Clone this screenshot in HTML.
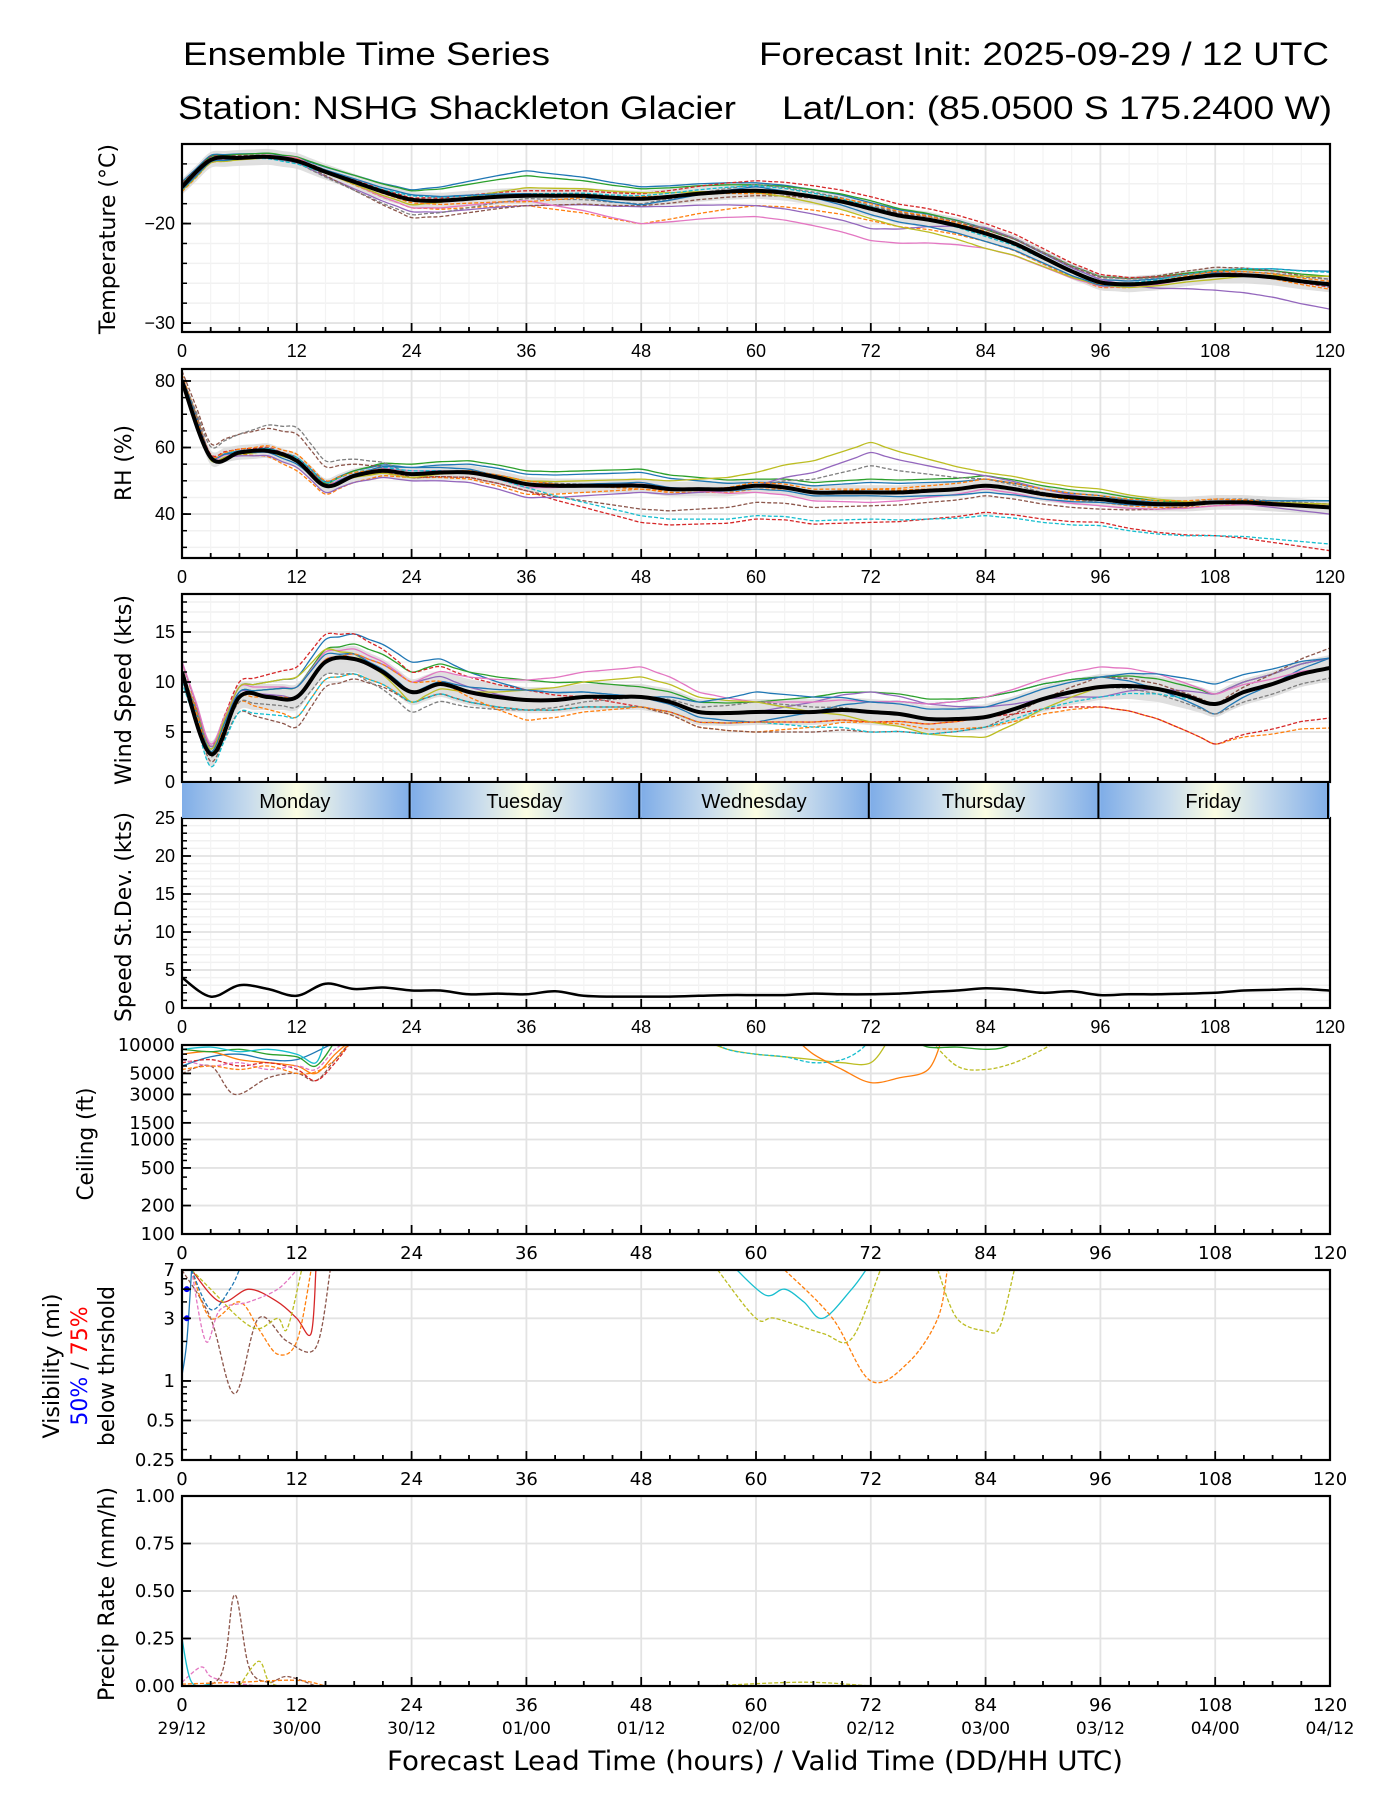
<!DOCTYPE html>
<html><head><meta charset="utf-8"><title>Ensemble Time Series</title>
<style>
html,body{margin:0;padding:0;background:#fff;}
svg{display:block;}
</style></head>
<body>
<svg id="chart" xmlns="http://www.w3.org/2000/svg" width="1400" height="1800" viewBox="0 0 1400 1800">
<defs>
<linearGradient id="dayGrad" x1="0" x2="1" y1="0" y2="0">
<stop offset="0" stop-color="#7fade8"/><stop offset="0.3" stop-color="#c9dcec"/><stop offset="0.5" stop-color="#fbfde2"/><stop offset="0.7" stop-color="#c9dcec"/><stop offset="1" stop-color="#7fade8"/>
</linearGradient>
</defs>
<g font-family="Liberation Sans, DejaVu Sans, sans-serif" fill="#000">
<text x="183" y="65" font-size="32" textLength="367" lengthAdjust="spacingAndGlyphs">Ensemble Time Series</text>
<text x="759" y="65" font-size="32" textLength="570" lengthAdjust="spacingAndGlyphs">Forecast Init: 2025-09-29 / 12 UTC</text>
<text x="178" y="119" font-size="32" textLength="558" lengthAdjust="spacingAndGlyphs">Station: NSHG Shackleton Glacier</text>
<text x="782" y="119" font-size="32" textLength="550" lengthAdjust="spacingAndGlyphs">Lat/Lon: (85.0500 S 175.2400 W)</text>
</g>
</svg>
<script>
// ===== data (3-hourly means, 0..120h) =====
const hours3 = [0,3,6,9,12,15,18,21,24,27,30,33,36,39,42,45,48,51,54,57,60,63,66,69,72,75,78,81,84,87,90,93,96,99,102,105,108,111,114,117,120];
const tempMean = [-16.3,-13.6,-13.4,-13.3,-13.7,-14.8,-15.8,-16.8,-17.6,-17.7,-17.5,-17.3,-17.2,-17.2,-17.2,-17.4,-17.5,-17.3,-17.0,-16.8,-16.7,-16.9,-17.3,-17.8,-18.5,-19.2,-19.6,-20.2,-21.0,-22.0,-23.4,-24.8,-25.9,-26.1,-25.9,-25.5,-25.2,-25.2,-25.4,-25.8,-26.1];
const rhMean = [80,57,58.5,59,56,48.5,51.5,53,52,52.5,52.5,51,49,48.5,48.5,48.5,48.5,47.5,47.5,47.5,48.5,48,46.5,46.5,46.5,46.5,47,47.5,48.5,47.5,46,45,44.5,43.5,43,43,43.5,43.5,43,42.5,42];
const windMean = [11,2.8,8.5,8.5,8.5,12,12.3,11,9.0,9.8,9.0,8.5,8.2,8.2,8.5,8.5,8.5,8.0,7.0,6.9,7.0,7.0,7.0,7.2,7.0,6.8,6.3,6.3,6.5,7.3,8.3,9.0,9.5,9.6,9.3,8.6,7.8,9.0,9.8,10.8,11.4];
const stdevVals = [4,1.5,3,2.5,1.6,3.2,2.5,2.7,2.3,2.3,1.8,1.9,1.8,2.2,1.6,1.5,1.5,1.5,1.6,1.7,1.7,1.7,1.9,1.8,1.8,1.9,2.1,2.3,2.6,2.4,2.0,2.2,1.7,1.8,1.8,1.9,2.0,2.3,2.4,2.5,2.3];
// member offsets at 12h resolution
const hours12 = [0,12,24,36,48,60,72,84,96,108,120];
const tempOffsets = [
 [0.5,0.3,1.0,2.5,1.2,0.8,0.6,0.5,0.3,0.4,1.3],[-0.5,0.2,-0.8,-1.0,-2.5,-1.5,-1.2,-0.8,-0.5,0.2,-0.5],
 [0.3,0.4,0.9,2.0,1.0,0.6,0.8,0.4,0.6,0.5,0.8],[-0.3,0.2,0.2,0.5,0.5,1.0,1.2,1.0,0.8,0.3,-0.3],
 [0.2,-0.2,-1.2,-1.0,-0.8,-1.5,-2.0,0.6,0.3,-1.5,-2.5],[0.4,0.1,-1.8,-1.0,-0.7,-0.5,0.2,0.4,0.5,0.8,0.5],
 [-0.2,0.3,-0.8,-0.5,-2.5,-2.6,-3.2,-1.5,-0.4,0,0],[0.1,-0.2,-1.5,-0.3,-0.5,0.6,0.3,0.5,0.6,0.3,0.5],
 [-0.4,0.0,-0.5,0.8,0.6,-0.2,-1.0,-1.5,-0.3,-0.4,0.8],[0.2,-0.3,0.4,0.2,0.3,0.5,0.2,-0.3,0.0,0.5,1.2],
 [-0.3,0.1,0.5,0.2,-0.6,0.4,-0.6,-0.8,-0.3,0.2,-0.2],[0.0,0.2,-0.3,-0.6,0.2,-0.3,0.5,0.2,-0.2,0.4,0.3]];
const rhOffsets = [
 [0,1,2,3,4,1,3,2,1,0,2],[2,-3,-1,-3,-1,-1,1,0,-1,-1,1],[-1,0,3,4,5,2,4,3,2,0,2],
 [1,1,-1,-2,-11,-10,-9,-8,-7,-10,-13],[0,-2,-2,-4,-2,0,12,3,0,0,-2],[3,8,-1,-2,-7,-5,-4,-3,-3,0,1],
 [0,0,1,-1,1,-2,-3,-1,-2,-1,0],[1,10,0,1,0,0,8,2,-1,1,1],[-1,0,-1,1,2,4,15,4,3,0,1],
 [0,1,1,-1,-9,-9,-8,-9,-8,-10,-11],[1,-1,2,0,1,-1,-1,-2,-1,0,2],[0,2,0,1,-1,1,1,2,1,1,0]];
const windOffsets = [
 [0,2,3,1,0,-1,1,2,1,-1,1],[1,-2,-1,-1,-1,-2,-1,-1,-2,-4,-6],[0,1,2,2,1,1,2,2,1,1,1],
 [0,3,2,1,-1,-1,-1,0,-2,-4,-5],[1,0,1,0,0,0,2,1,-1,1,1],[0,-3,-1,-1,-1,-2,-2,-1,1,0,2],
 [1,1,1,2,3,1,1,2,2,1,0],[0,-1,-2,-1,0,1,0,0,0,-1,-1],[0,2,-1,1,2,1,-1,-2,0,0,0],
 [-1,-2,-1,-1,-1,-1,-2,-1,-1,0,0],[0,1,0,1,0,2,1,1,1,2,1],[0,0,1,-2,-1,-1,-1,0,0,0,0]];
const ceilHours = [[0,3,6,9,12,15,17],[0,3,5.5,9,12,14,16,18],[0,3,6,9,12,14,16,18],[0,3,6,9,12,14,16,18],[0,3,6,9,12,14,16],[0,3,6,9,12,14,16,18],[0,3,6,9,12,14,15],[0,3,6,9,12,14,16,18],
 [54,57,60,63,66,69,72,74],[55,57,60,63,66,69,71,72],[64,66,69,72,75,78,79.5],[78,81,84,87,90,92],[76,78,81,84,86,88]];
const ceilVals = [[6000,7500,8000,7000,7000,9500,12000],[5000,6000,3000,4500,5000,4200,7000,12000],[8000,8500,7000,6500,6000,5000,8000,12000],[6500,7000,6000,6500,5500,4200,6500,12000],[9000,8500,9000,8000,7500,6000,11000],[7000,6000,6500,5500,6000,5500,9000,12000],[9000,9500,8500,9000,8000,6500,12000],[5500,6000,5500,6000,5000,5200,7000,12000],
 [12000,9000,8000,7500,7000,6500,6500,12000],[12000,9000,8000,7500,6500,7000,9000,12000],[12000,8000,5500,4000,4500,5500,12000],[12000,6000,5500,6500,9000,12000],[12000,9500,9500,9000,9500,12000]];
const ceilColors = ["#1f77b4","#8c564b","#ff7f0e","#d62728","#2ca02c","#e377c2","#17becf","#ff7f0e","#bcbd22","#17becf","#ff7f0e","#bcbd22","#2ca02c"];
const visHours = [[0,3,5.5,8,11,14,15.5],[1,4,7,10,12,13.5,14],[1,3,6,8,10,12,13.5],[1,2.5,4,7,10,12],[1,3,6,8,10,11,12.5],[1,3,5,6],[0,0.5,1],
 [58,61,63,65,67,70,71.5],[56,60,62,67,70,73],[63,68,72,76,79,80],[79,81,84,85.5,87]];
const visVals = [[7,3,0.8,3,2,1.8,7],[7,4,5,4,3,2.3,7],[7,3,4,2.5,1.6,2,7],[7,2,3.5,4,5,7],[7,5,3,2.5,3,2.5,7],[7,3.5,5,7],[1.1,2,7],
 [7,4.5,5,4,3,5,7],[7,3,3,2.3,2.1,7],[7,3,1,1.4,3,7],[7,3,2.4,2.6,7]];
const visColors = ["#8c564b","#d62728","#ff7f0e","#e377c2","#bcbd22","#1f77b4","#1f77b4","#17becf","#bcbd22","#ff7f0e","#bcbd22"];
const visDashed = [1,0,1,1,1,1,0,0,1,1,1];
const precipHours = [[0,4,5.5,7,9,11,14],[0,2,3,5,8],[6,8,9,10],[0,1,3],[55,65,72],[0,6,12,15]];
const precipVals = [[0,0.05,0.48,0.1,0.02,0.05,0],[0.02,0.1,0.05,0.02,0],[0,0.13,0.03,0],[0.25,0.02,0.01],[0,0.02,0],[0.01,0.02,0.03,0]];
const precipColors = ["#8c564b","#e377c2","#bcbd22","#17becf","#bcbd22","#ff7f0e"];
const dayNames = ["Monday","Tuesday","Wednesday","Thursday","Friday"];
const xTicks = [0,12,24,36,48,60,72,84,96,108,120];
const dateLabels = ["29/12","30/00","30/12","01/00","01/12","02/00","02/12","03/00","03/12","04/00","04/12"];
const colors = ["#1f77b4","#ff7f0e","#2ca02c","#d62728","#9467bd","#8c564b","#e377c2","#7f7f7f","#bcbd22","#17becf"];

// ===== layout =====
const NS="http://www.w3.org/2000/svg";
const svg=document.getElementById('chart');
const L=182,R=1330;
const xs=h=>L+h*(R-L)/120;
function mk(tag,attrs,parent){const e=document.createElementNS(NS,tag);for(const k in attrs)e.setAttribute(k,attrs[k]);(parent||svg).appendChild(e);return e;}
function lin(d0,d1,top,bot){return v=>bot-(v-d0)/(d1-d0)*(bot-top);}
function lg(d0,d1,top,bot){return v=>bot-(Math.log10(v)-Math.log10(d0))/(Math.log10(d1)-Math.log10(d0))*(bot-top);}
function interp(hs,vs,h){if(h<=hs[0])return vs[0];for(let i=1;i<hs.length;i++){if(h<=hs[i]){const t=(h-hs[i-1])/(hs[i]-hs[i-1]);return vs[i-1]+t*(vs[i]-vs[i-1]);}}return vs[vs.length-1];}
function smooth(pts){let d="M"+pts[0][0].toFixed(1)+","+pts[0][1].toFixed(1);for(let i=0;i<pts.length-1;i++){const p0=pts[i-1]||pts[i],p1=pts[i],p2=pts[i+1],p3=pts[i+2]||p2;const c1x=p1[0]+(p2[0]-p0[0])/6,c1y=p1[1]+(p2[1]-p0[1])/6,c2x=p2[0]-(p3[0]-p1[0])/6,c2y=p2[1]-(p3[1]-p1[1])/6;d+="C"+c1x.toFixed(1)+","+c1y.toFixed(1)+" "+c2x.toFixed(1)+","+c2y.toFixed(1)+" "+p2[0].toFixed(1)+","+p2[1].toFixed(1);}return d;}

const panels=[
 {id:'temperature',top:144,bot:332,y:lin(-30.9,-12,144,332),yt:[-20,-30],yl:['\u221220','\u221230'],minor:[-30,-28,-26,-24,-22,-20,-18,-16,-14,-12],font:'Liberation Sans',xl:true},
 {id:'rh',top:369,bot:558,y:lin(26.8,83.6,369,558),yt:[40,60,80],yl:['40','60','80'],minor:[30,35,40,45,50,55,60,65,70,75,80],font:'Liberation Sans',xl:true},
 {id:'wind-speed',top:594,bot:782,y:lin(0,18.8,594,782),yt:[0,5,10,15],yl:['0','5','10','15'],minor:[1,2,3,4,6,7,8,9,11,12,13,14,16,17,18],font:'Liberation Sans',xl:false},
 {id:'speed-stdev',top:818,bot:1008,y:lin(0,25,818,1008),yt:[0,5,10,15,20,25],yl:['0','5','10','15','20','25'],minor:[1,2,3,4,6,7,8,9,11,12,13,14,16,17,18,19,21,22,23,24],font:'Liberation Sans',xl:true},
 {id:'ceiling',top:1045,bot:1234,y:lg(100,10000,1045,1234),yt:[10000,5000,3000,1500,1000,500,200,100],yl:['10000','5000','3000','1500','1000','500','200','100'],minor:[],font:'DejaVu Sans',xl:true},
 {id:'visibility',top:1270,bot:1460,y:lg(0.25,7,1270,1460),yt:[7,5,3,1,0.5,0.25],yl:['7','5','3','1','0.5','0.25'],minor:[],font:'DejaVu Sans',xl:true},
 {id:'precip',top:1496,bot:1686,y:lin(0,1,1496,1686),yt:[0,0.25,0.5,0.75,1],yl:['0.00','0.25','0.50','0.75','1.00'],minor:[],font:'DejaVu Sans',xl:true}
];
panels.forEach((p,pi)=>{
 const g=mk('g',{});
 
 
 const cp=mk('clipPath',{id:'clip'+pi},g);
 mk('rect',{x:L,y:p.top,width:R-L,height:p.bot-p.top},cp);
 p.g=g;p.clip='url(#clip'+pi+')';
 p.minor.forEach(v=>{const l=mk('line',{x1:L,x2:R,y1:p.y(v),y2:p.y(v),stroke:'#f1f1f1','stroke-width':1.5},g);
  
  });
 for(let h=3;h<120;h+=3){if(h%12===0||pi>=4)continue;const l=mk('line',{x1:xs(h),x2:xs(h),y1:p.top,y2:p.bot,stroke:'#f3f3f3','stroke-width':1.2},g);
  
  }
 xTicks.forEach(h=>{const l=mk('line',{x1:xs(h),x2:xs(h),y1:p.top,y2:p.bot,stroke:'#e3e3e3','stroke-width':1.8},g);
  
  });
 p.yt.forEach(v=>{const l=mk('line',{x1:L,x2:R,y1:p.y(v),y2:p.y(v),stroke:'#e3e3e3','stroke-width':1.8},g);
  
  });
});
function drawAxes(p,pi){
 const g=mk('g',{});
 
 
 for(let h=0;h<=120;h+=3){const big=h%12===0;const l=mk('line',{x1:xs(h),x2:xs(h),y1:p.bot,y2:p.bot-(big?9:5),stroke:'#000','stroke-width':1.8},g);
  
  }
 p.yt.forEach((v,i)=>{const l=mk('line',{x1:L,x2:L+9,y1:p.y(v),y2:p.y(v),stroke:'#000','stroke-width':1.8},g);
  
  
  const t=mk('text',{x:L-7,y:p.y(v)+6,'text-anchor':'end','font-size':18,'font-family':p.font+', sans-serif'},g);t.textContent=p.yl[i];
  
  });
 const minorY = pi===4?[2000,4000,6000,7000,8000,9000,300,400,600,700,800,900]:pi===5?[2,4,6,0.3,0.4,0.6,0.7,0.8,0.9]:p.minor;
 minorY.forEach(v=>{const l=mk('line',{x1:L,x2:L+5,y1:p.y(v),y2:p.y(v),stroke:'#000','stroke-width':1.5},g);
  
  });
 if(p.xl) xTicks.forEach((h,i)=>{const t=mk('text',{x:xs(h),y:p.bot+25,'text-anchor':'middle','font-size':18,'font-family':p.font+', sans-serif'},g);t.textContent=h;
  
  
  if(pi===6){const d=mk('text',{x:xs(h),y:p.bot+48,'text-anchor':'middle','font-size':17,'font-family':'DejaVu Sans, sans-serif'},g);d.textContent=dateLabels[i];
   
   }});
 const r=mk('rect',{x:L,y:p.top,width:R-L,height:p.bot-p.top,fill:'none',stroke:'#000','stroke-width':2.2},g);
 
 
}
function memberLines(p,mean,offsets,band,pid){
 const g=mk('g',{'clip-path':p.clip},p.g);
 
 
 const up=[],dn=[];
 for(let h=0;h<=120;h+=1.5){const m=interp(hours3,mean,h);up.push([xs(h),p.y(m+band)]);dn.push([xs(h),p.y(m-band)]);}
 const b=mk('path',{d:smooth(up)+'L'+smooth(dn.reverse()).slice(1),fill:'#d8d8d8',opacity:0.8},g);
 
 
 offsets.forEach((off,i)=>{const pts=[];for(let h=0;h<=120;h+=1.5){pts.push([xs(h),p.y(interp(hours3,mean,h)+interp(hours12,off,h))]);}
  const l=mk('path',{d:smooth(pts),fill:'none',stroke:colors[i%10],'stroke-width':1.3,'stroke-dasharray':i%2?'4 2':'none'},g);
  
  });
 const pts=hours3.map((h,i)=>[xs(h),p.y(mean[i])]);
 const m=mk('path',{d:smooth(pts),fill:'none',stroke:'#000','stroke-width':4},g);
 
 
}
memberLines(panels[0],tempMean,tempOffsets,0.8,'temperature');
memberLines(panels[1],rhMean,rhOffsets,2.2,'rh');
memberLines(panels[2],windMean,windOffsets,1.3,'wind');
{const p=panels[3];const pts=hours3.map((h,i)=>[xs(h),p.y(stdevVals[i])]);
 const l=mk('path',{d:smooth(pts),fill:'none',stroke:'#000','stroke-width':2.5,'clip-path':p.clip},p.g);
 
 }
function sparse(p,hsArr,vsArr,cols,dashed,pid){
 const g=mk('g',{'clip-path':p.clip},p.g);
 
 
 hsArr.forEach((hs,i)=>{const pts=hs.map((h,j)=>[xs(h),p.y(vsArr[i][j])]);
  const d=dashed?dashed[i]:(i%2);
  const l=mk('path',{d:smooth(pts),fill:'none',stroke:cols[i],'stroke-width':1.3,'stroke-dasharray':d?'4 2':'none'},g);
  
  });
}
sparse(panels[4],ceilHours,ceilVals,ceilColors,null,'ceiling');
sparse(panels[5],visHours,visVals,visColors,visDashed,'visibility');
sparse(panels[6],precipHours,precipVals,precipColors,[1,1,1,0,1,1],'precip');
{const p=panels[5];[5,3].forEach(v=>{const c=mk('circle',{cx:xs(0.5),cy:p.y(v),r:3,fill:'#0000ff'},p.g);
 
 });}
panels.forEach((p,pi)=>drawAxes(p,pi));
{const g=mk('g',{});
 
 
 dayNames.forEach((d,i)=>{const x0=xs(i*24),x1=xs(i*24+24);
  const r=mk('rect',{x:x0,y:783,width:x1-x0,height:35,fill:'url(#dayGrad)'},g);
  
  
  const t=mk('text',{x:(x0+x1)/2-2,y:808,'text-anchor':'middle','font-size':20,'font-family':'Liberation Sans, sans-serif'},g);t.textContent=d;
  
  
  const xl=x1-(i===4?2:2);
  const l=mk('line',{x1:xl,x2:xl,y1:783,y2:818,stroke:'#000','stroke-width':2},g);
  
  });}
function ylab(txt,x,yc,len){const t=mk('text',{x:0,y:0,transform:'translate('+x+','+yc+') rotate(-90)','text-anchor':'middle','font-size':22,'font-family':'DejaVu Sans, sans-serif',textLength:len,lengthAdjust:'spacingAndGlyphs'});t.textContent=txt;return t;}
let t;
t=ylab('Temperature (\u00b0C)',115,239,190);


t=ylab('RH (%)',131,463,76);


t=ylab('Wind Speed (kts)',131,690,190);


t=ylab('Speed St.Dev. (kts)',131,917,210);


t=ylab('Ceiling (ft)',93,1144,113);


t=ylab('Visibility (mi)',59,1366,145);


t=mk('text',{x:0,y:0,transform:'translate(87,1366) rotate(-90)','text-anchor':'middle','font-size':22,'font-family':'DejaVu Sans, sans-serif'});
t.innerHTML='<tspan fill="#0000ff">50%</tspan> / <tspan fill="#ff0000">75%</tspan>';


t=ylab('below thrshold',114,1366,160);


t=ylab('Precip Rate (mm/h)',114,1594,214);


t=mk('text',{x:755,y:1770,'text-anchor':'middle','font-size':27,'font-family':'DejaVu Sans, sans-serif',textLength:736,lengthAdjust:'spacingAndGlyphs'});
t.textContent='Forecast Lead Time (hours) / Valid Time (DD/HH UTC)';


</script>
</body></html>
